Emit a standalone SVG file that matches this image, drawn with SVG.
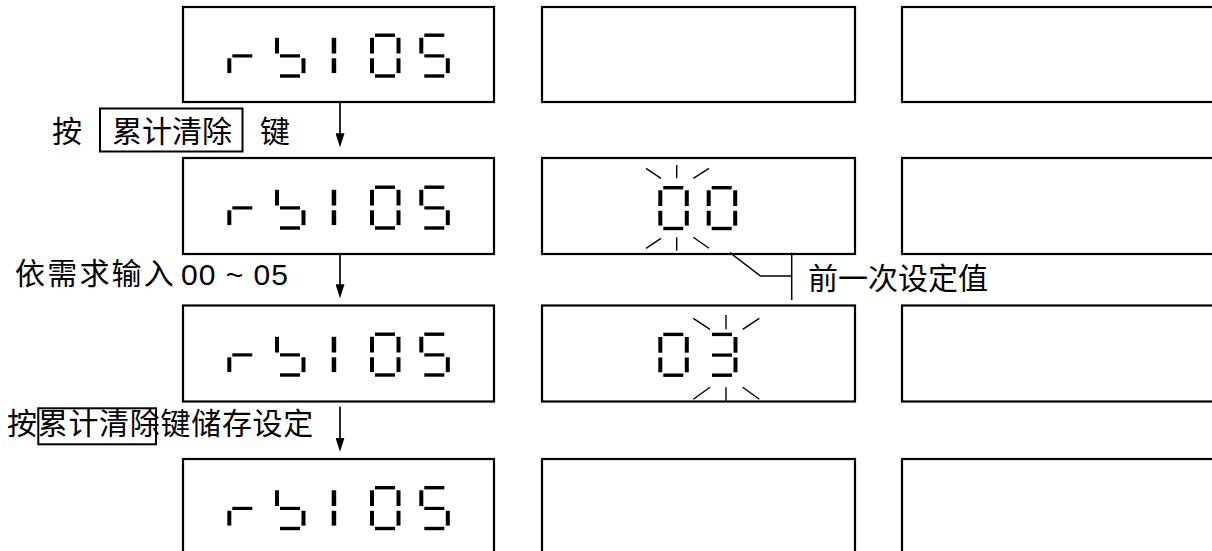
<svg xmlns="http://www.w3.org/2000/svg" width="1212" height="551" viewBox="0 0 1212 551">
<style>
.box{fill:none;stroke:#000;stroke-width:2.2}
.key{fill:none;stroke:#000;stroke-width:2}
.seg{fill:#000}
.ray{stroke:#000;stroke-width:1.4;fill:none}
.conn{stroke:#000;stroke-width:1.7;fill:none}
.call{stroke:#000;stroke-width:1.5;fill:none}
.lbl{font-family:"Liberation Sans","Noto Sans CJK SC",sans-serif;font-size:30px;fill:#000}
</style>
<defs>
<marker id="ah" markerUnits="userSpaceOnUse" markerWidth="14" markerHeight="9" refX="8" refY="4.5" orient="auto">
<path d="M0,0 L14,4.5 L0,9 z" fill="#000"/>
</marker>
<g id="dig0" class="seg"><rect x="5" y="0" width="20" height="3.4"/><rect x="26.5" y="4.3" width="4" height="15.7"/><rect x="26.5" y="24.8" width="4" height="14.8"/><rect x="5" y="40.8" width="20" height="3.4"/><rect x="0" y="24.8" width="4" height="14.8"/><rect x="0" y="4.3" width="4" height="15.7"/></g>
<g id="dig3" class="seg"><rect x="5" y="0" width="20" height="3.4"/><rect x="26.5" y="4.3" width="4" height="15.7"/><rect x="5" y="20.8" width="20" height="3.2"/><rect x="26.5" y="24.8" width="4" height="14.8"/><rect x="5" y="40.8" width="20" height="3.4"/></g>
<g id="dig5" class="seg"><rect x="5" y="0" width="20" height="3.4"/><rect x="0" y="4.3" width="4" height="15.7"/><rect x="5" y="20.8" width="20" height="3.2"/><rect x="26.5" y="24.8" width="4" height="14.8"/><rect x="5" y="40.8" width="20" height="3.4"/></g>
<g id="digr" class="seg"><rect x="0" y="24.8" width="4" height="14.8"/><rect x="5" y="20.8" width="20" height="3.2"/></g>
<g id="digb" class="seg"><rect x="0" y="4.3" width="4" height="15.7"/><rect x="5" y="20.8" width="20" height="3.2"/><rect x="26.5" y="24.8" width="4" height="14.8"/><rect x="5" y="40.8" width="20" height="3.4"/></g>
<g id="dig1" class="seg"><rect x="0" y="4.3" width="4.5" height="15.7"/><rect x="0" y="24.8" width="4.5" height="14.8"/></g>
<g id="rb105"><use href="#digr" x="227.3" y="0"/><use href="#digb" x="275" y="0"/><use href="#dig1" x="331.7" y="0"/><use href="#dig0" x="370" y="0"/><use href="#dig5" x="419.3" y="0"/></g>
</defs>
<rect width="1212" height="551" fill="#fff"/>

<g id="r1c1"><rect class="box" x="183" y="7" width="311" height="95"/><use href="#rb105" x="0" y="33.5"/></g>
<g id="r1c2"><rect class="box" x="542" y="7" width="313" height="95"/></g>
<g id="r1c3"><rect class="box" x="902" y="7" width="330" height="95"/></g>

<g id="step1">
<text class="lbl" x="52" y="142">按</text>
<rect class="key" x="100" y="108.5" width="142.5" height="43"/>
<text class="lbl" x="112" y="142">累计清除</text>
<text class="lbl" x="260" y="142">键</text>
</g>

<g id="r2c1"><rect class="box" x="183" y="158" width="311" height="96"/><use href="#rb105" x="0" y="185.5"/></g>
<g id="r2c2"><rect class="box" x="542" y="158" width="313" height="96"/>
<use href="#dig0" x="658.3" y="186"/><use href="#dig0" x="706.7" y="186"/>
<g class="ray">
<line x1="646" y1="168.3" x2="661" y2="178.3"/><line x1="676.7" y1="165" x2="676.7" y2="178.3"/><line x1="693.3" y1="178.3" x2="709" y2="168.3"/>
<line x1="646" y1="248.3" x2="661" y2="238.3"/><line x1="676.7" y1="237.3" x2="676.7" y2="250.7"/><line x1="693.3" y1="237.3" x2="709" y2="248.3"/>
</g></g>
<g id="r2c3"><rect class="box" x="902" y="158" width="330" height="96"/></g>

<g id="step2"><text class="lbl" x="15" y="284" letter-spacing="2.2">依需求输入</text><text class="lbl" x="181" y="285" font-size="27" textLength="107" lengthAdjust="spacing">00 ~ 05</text></g>

<g id="note"><text class="lbl" x="808" y="289">前一次设定值</text></g>

<g id="r3c1"><rect class="box" x="183" y="305.5" width="311" height="96"/><use href="#rb105" x="0" y="332.5"/></g>
<g id="r3c2"><rect class="box" x="542" y="305.5" width="313" height="96"/>
<use href="#dig0" x="658.3" y="332.7"/><use href="#dig3" x="707" y="332.7"/>
<g class="ray">
<line x1="693.3" y1="318.3" x2="710" y2="329.3"/><line x1="726" y1="315" x2="726" y2="329.3"/><line x1="742.7" y1="329.3" x2="759.3" y2="318.3"/>
<line x1="693.3" y1="399.3" x2="710" y2="387.3"/><line x1="726" y1="387.3" x2="726" y2="401.5"/><line x1="742.7" y1="387.3" x2="759.3" y2="399.3"/>
</g></g>
<g id="r3c3"><rect class="box" x="902" y="305.5" width="330" height="96"/></g>

<g id="step3">
<text class="lbl" x="7" y="434" letter-spacing="0.7">按累计清除键储存设定</text>
<rect class="key" x="38.3" y="408.3" width="117.7" height="36"/>
</g>

<g id="r4c1"><rect class="box" x="183" y="459" width="311" height="120"/><use href="#rb105" x="0" y="486"/></g>
<g id="r4c2"><rect class="box" x="542" y="459" width="313" height="120"/></g>
<g id="r4c3"><rect class="box" x="902" y="459" width="330" height="120"/></g>

<g id="connectors">
<line class="conn" x1="340" y1="103" x2="340" y2="141.3" marker-end="url(#ah)"/>
<line class="conn" x1="340" y1="255" x2="340" y2="292.3" marker-end="url(#ah)"/>
<line class="conn" x1="340" y1="406.7" x2="340" y2="445.7" marker-end="url(#ah)"/>
<polyline class="call" points="730,252.7 760.5,276 791.7,276"/>
<line class="call" x1="791.7" y1="252.7" x2="791.7" y2="300"/>
</g>
</svg>
